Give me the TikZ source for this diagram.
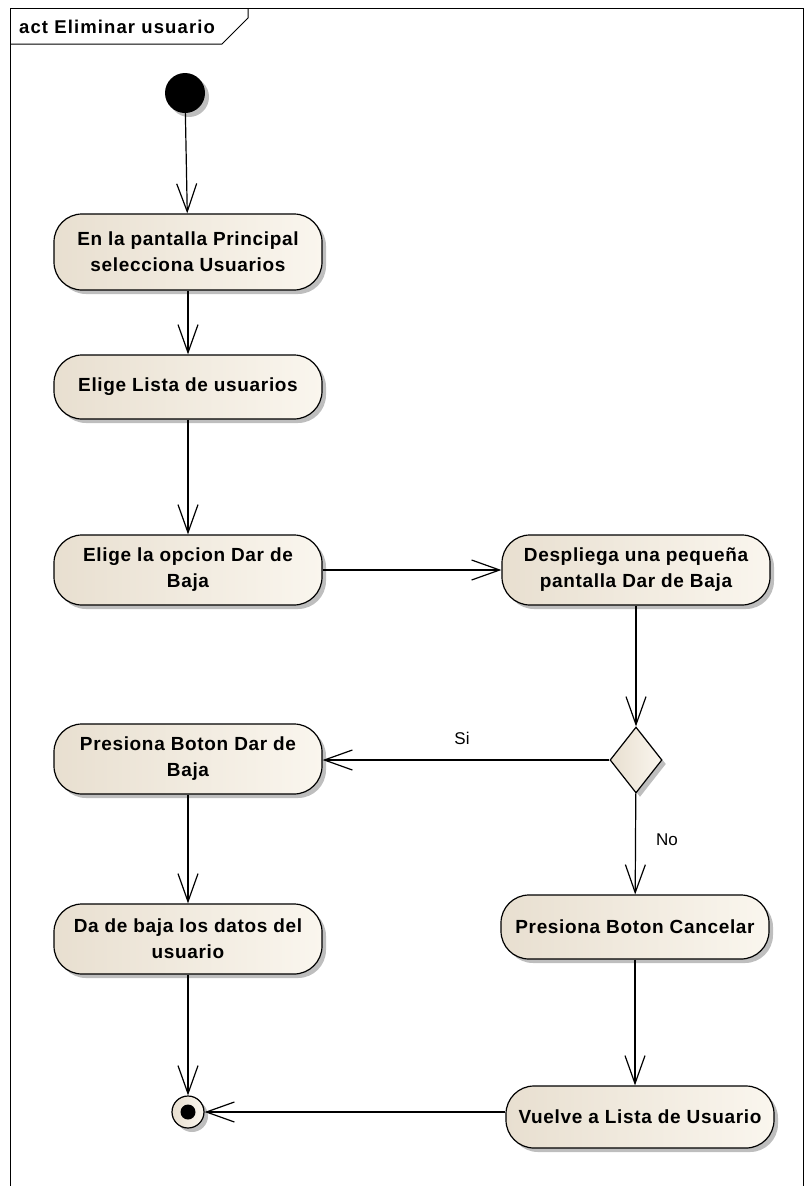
\documentclass[tikz,border=0pt]{standalone}
\usepackage{fontspec}
\setmainfont{Liberation Sans}
\newfontfamily\actfont[LetterSpace=3.5]{Liberation Sans}
\newfontfamily\titlefont[LetterSpace=6]{Liberation Sans}
\usetikzlibrary{arrows.meta,shapes.geometric,shadows}
\definecolor{creamL}{RGB}{232,223,208}
\definecolor{creamR}{RGB}{250,246,238}
\definecolor{shadowgrey}{RGB}{190,190,190}

\tikzset{
  shadowed/.style={drop shadow={shadow xshift=4pt, shadow yshift=-4pt, fill=shadowgrey, opacity=1}},
  action/.style={shadowed, draw=black, line width=1.2pt, rounded corners=28pt,
    left color=creamL, right color=creamR, minimum width=268pt, inner sep=0pt,
    align=center, font=\actfont\bfseries\fontsize{19}{26}\selectfont},
  decision/.style={shadowed, diamond, draw=black, line width=1.2pt,
    left color=creamL, right color=creamR, minimum width=52pt, minimum height=66pt, inner sep=0pt},
  flow/.style={line width=1.2pt, -{Straight Barb[length=28pt,width=20pt]}},
  guard/.style={font=\fontsize{17}{20}\selectfont},
}

\begin{document}
\begin{tikzpicture}[x=1pt, y=-1pt]
\useasboundingbox (0,0) rectangle (806,1186);

% diagram frame and its name tab
\draw[line width=1pt] (10,1186) -- (10,8) -- (803,8) -- (803,1186);
\draw[line width=1pt] (10,44) -- (222,44) -- (248,18) -- (248,8);
\node[anchor=west, inner sep=0pt, font=\titlefont\bfseries\fontsize{18.5}{20}\selectfont] (title) at (19,27) {act Eliminar usuario};

% initial node
\node[shadowed, circle, fill=black, minimum size=40pt, inner sep=0pt] (init) at (185,93) {};

% actions
\node[action, minimum height=76pt] (n1) at (188,252) {En la pantalla Principal\\selecciona Usuarios};
\node[action, minimum height=64pt] (n2) at (188,387) {Elige Lista de usuarios};
\node[action, minimum height=70pt] (n3) at (188,570) {Elige la opcion Dar de\\Baja};
\node[action, minimum height=70pt] (n4) at (636,570) {Despliega una pequeña\\pantalla Dar de Baja};
\node[decision] (dec) at (636,760) {};
\node[action, minimum height=70pt] (n5) at (188,759) {Presiona Boton Dar de\\Baja};
\node[action, minimum height=70pt] (n6) at (188,939) {Da de baja los datos del\\usuario};
\node[action, minimum height=64pt] (n7) at (635,927) {Presiona Boton Cancelar};
\node[action, minimum height=62pt] (n8) at (640,1117) {Vuelve a Lista de Usuario};

% final node
\node[shadowed, circle, draw=black, line width=1.2pt, left color=creamL, right color=creamR,
  minimum size=32pt, inner sep=0pt] (fin) at (188,1112) {};
\node[circle, fill=black, minimum size=15pt, inner sep=0pt] (findot) at (fin) {};

% guards
\node[guard] (si) at (462,738) {Si};
\node[guard] (no) at (667,840) {No};

% control flows
\draw[flow] (init) -- (n1);
\draw[flow] (n1) -- (n2);
\draw[flow] (n2) -- (n3);
\draw[flow] (n3) -- (n4);
\draw[flow] (n4) -- (dec);
\draw[flow] (dec.west) -- (dec.west -| n5.east);
\draw[flow] (dec) -- (n7);
\draw[flow] (n5) -- (n6);
\draw[flow] (n6) -- (fin);
\draw[flow] (n7) -- (n7 |- n8.north);
\draw[flow] (n8.west |- fin) -- (fin);
\end{tikzpicture}
\end{document}
